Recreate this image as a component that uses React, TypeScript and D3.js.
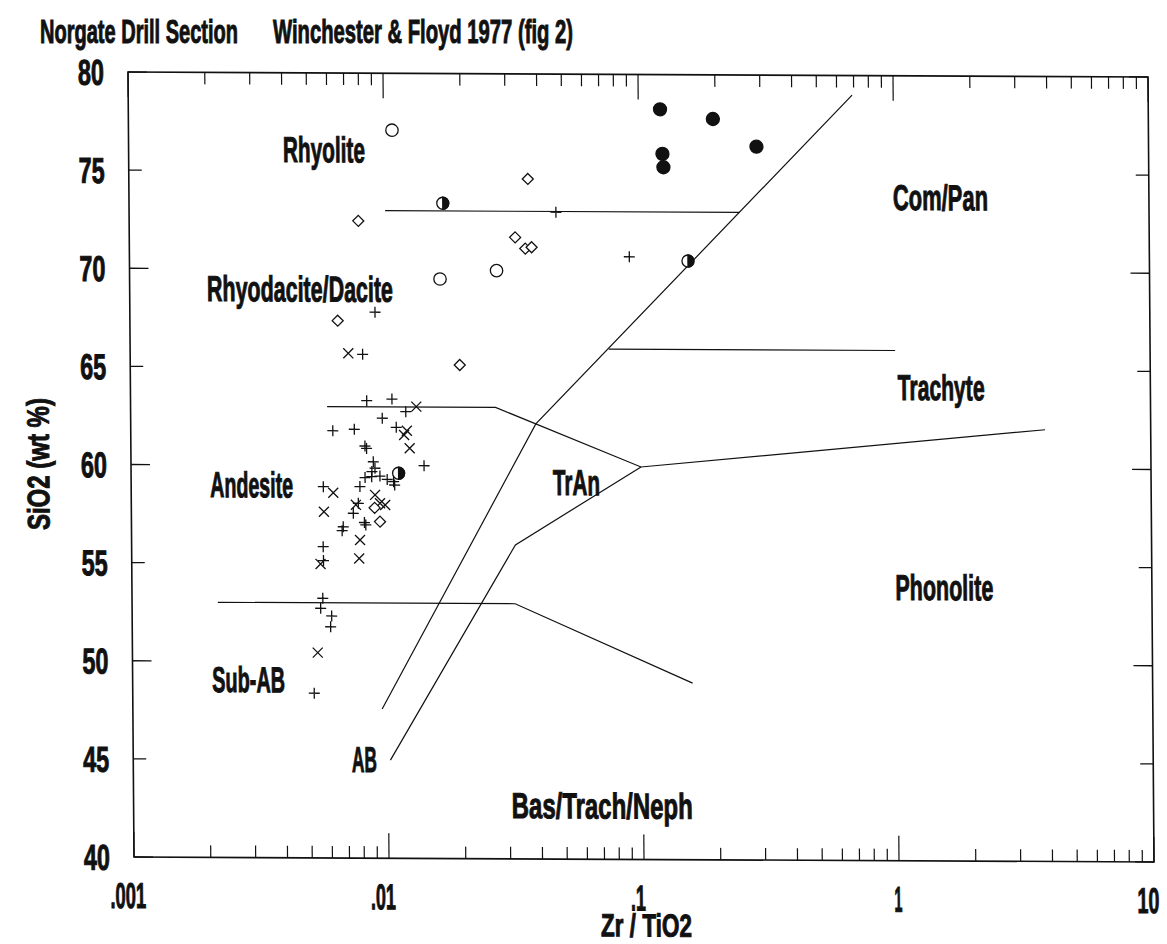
import React from "react";
import * as d3 from "d3";

// Winchester & Floyd 1977 (fig 2): Zr/TiO2 vs SiO2, Norgate drill section

const xTickValues = [0.001, 0.01, 0.1, 1, 10];
const xTickLabels = [".001", ".01", ".1", "1", "10"];
const yTickValues = [40, 45, 50, 55, 60, 65, 70, 75, 80];

// samples: [Zr/TiO2, SiO2 wt%]
const plusPoints: [number, number][] = [
  [0.0472, 72.96], [0.0913, 70.71], [0.00915, 67.82], [0.00816, 65.67],
  [0.00844, 63.31], [0.0106, 63.4], [0.012, 62.76], [0.0097, 62.42],
  [0.011, 61.96], [0.0062, 61.77], [0.00753, 61.85], [0.00828, 61.0],
  [0.0084, 60.88], [0.0141, 60.01], [0.00892, 60.2], [0.00905, 59.87],
  [0.00827, 59.39], [0.00878, 59.44], [0.00946, 59.47], [0.0107, 59.19],
  [0.0108, 59.02], [0.0088, 59.7], [0.0101, 59.3], [0.00567, 58.92],
  [0.00789, 58.93], [0.00777, 58.08], [0.00742, 57.57], [0.0082, 57.1],
  [0.0083, 56.98], [0.00677, 56.88], [0.0067, 56.68], [0.00564, 55.86],
  [0.00565, 55.15], [0.0056, 53.23], [0.00549, 52.72], [0.00606, 52.33],
  [0.006, 51.78], [0.00515, 48.39]
];
const crossPoints: [number, number][] = [
  [0.00717, 65.72], [0.0132, 63.02], [0.0121, 61.79], [0.0118, 61.57],
  [0.0124, 60.9], [0.0062, 58.61], [0.00904, 58.51], [0.00945, 58.09],
  [0.0099, 58.0], [0.0076, 58.0], [0.00569, 57.64], [0.00787, 56.21],
  [0.0055, 54.98], [0.0078, 55.27], [0.00533, 50.46]
];
const diamondPoints: [number, number][] = [
  [0.0367, 74.65], [0.00792, 72.47], [0.0326, 71.67], [0.0357, 71.1],
  [0.0378, 71.17], [0.00653, 67.38], [0.0196, 65.15], [0.009, 57.85],
  [0.00944, 57.15]
];
const openCirclePoints: [number, number][] = [
  [0.0108, 77.1], [0.0275, 69.97], [0.0165, 69.53]
];
const filledCirclePoints: [number, number][] = [
  [0.1217, 78.23], [0.196, 77.75], [0.29, 76.35], [0.124, 75.96], [0.125, 75.28]
];
const halfCirclePoints: [number, number][] = [
  [0.017, 73.39], [0.155, 70.51], [0.0112, 59.62]
];

// field boundaries
const boundaries: [number, number][][] = [
  [[0.0101, 73], [0.248, 73]],
  [[0.0059, 63], [0.027, 63], [0.1, 60], [3.85, 62]],
  [[0.00217, 53], [0.0318, 53], [0.157, 49]],
  [[0.0095, 47.6], [0.0388, 62.17], [0.69, 79]],
  [[0.0102, 45], [0.032, 56], [0.1, 60]],
  [[0.0754, 66], [1.0, 66]]
];

// field names, anchored at left baseline
const fieldNames = ["Rhyolite", "Rhyodacite/Dacite", "Andesite", "Sub-AB", "AB", "TrAn", "Com/Pan", "Trachyte", "Phonolite", "Bas/Trach/Neph"];
const fieldX = [0.00403, 0.00201, 0.00204, 0.00205, 0.0072, 0.0451, 0.991, 1.02, 0.986, 0.0304];
const fieldY = [75.45, 68.35, 58.36, 48.43, 44.39, 58.55, 73.16, 63.48, 53.29, 42.08];

const FONT = "'Liberation Sans Narrow', 'Liberation Sans', Arial, sans-serif";
const textW: Record<string, number> = {
  "Rhyolite": 82, "Rhyodacite/Dacite": 186, "Andesite": 83, "Sub-AB": 73, "AB": 25,
  "TrAn": 47, "Com/Pan": 95, "Trachyte": 87, "Phonolite": 98, "Bas/Trach/Neph": 181,
  ".001": 36, ".01": 25, ".1": 15, "1": 8, "10": 22
};

export default function App() {
  const width = 1167;
  const height = 944;
  const x = d3.scaleLog().domain([0.001, 10]).range([128, 1148]);
  const y = d3.scaleLinear().domain([40, 80]).range([857, 72]);
  const [x0, x1] = x.range();
  const [y0, y1] = y.range();
  const line = d3.line<[number, number]>().x(d => x(d[0])).y(d => y(d[1]));
  const allTicks = x.ticks();
  const isMajor = (v: number) => Math.abs(Math.log10(v) - Math.round(Math.log10(v))) < 1e-6;
  const stroke = "#111";
  const txt = { stroke: "#111", strokeWidth: 1, fill: "#111" };

  return (
    <svg width={width} height={height} style={{ position: "absolute", left: 0, top: 0, background: "#fff" }}
      fontFamily={FONT} fontWeight={700}>
      <rect width={width} height={height} fill="#fff" />
      <text x={40} y={43} fontSize={33} textLength={198} lengthAdjust="spacingAndGlyphs" {...txt}>Norgate Drill Section</text>
      <text x={273} y={43} fontSize={33} textLength={300} lengthAdjust="spacingAndGlyphs" {...txt}>Winchester &amp; Floyd 1977 (fig 2)</text>

      <g transform="matrix(1,0.0049,0.00764,1,-0.55,-0.63)">
        {/* frame */}
        <rect x={x0} y={y1} width={x1 - x0} height={y0 - y1} fill="none" stroke={stroke} strokeWidth={1.6} />

        {/* y ticks */}
        {yTickValues.map(v => {
          const len = v % 10 === 0 ? 19 : 13;
          return (
            <g key={"y" + v}>
              <line x1={x0} x2={x0 + len} y1={y(v)} y2={y(v)} stroke={stroke} strokeWidth={1.3} />
              <line x1={x1} x2={x1 - len} y1={y(v)} y2={y(v)} stroke={stroke} strokeWidth={1.3} />
              <text x={104} y={y(v) + 13} fontSize={36} textAnchor="end" textLength={26}
                lengthAdjust="spacingAndGlyphs" {...txt}>{v}</text>
            </g>
          );
        })}

        {/* x ticks */}
        {allTicks.map((v, i) => {
          const len = isMajor(v) ? 25 : 12;
          return (
            <g key={"x" + i}>
              <line x1={x(v)} x2={x(v)} y1={y0} y2={y0 - len} stroke={stroke} strokeWidth={1.2} />
              <line x1={x(v)} x2={x(v)} y1={y1} y2={y1 + len} stroke={stroke} strokeWidth={1.2} />
            </g>
          );
        })}
        {xTickValues.map((v, i) => {
          const lab = xTickLabels[i];
          const last = i === xTickValues.length - 1;
          const off = lab.startsWith(".") ? -6 : (last ? 5 : -1);
          return (
            <text key={"xl" + i} x={x(v) + off} y={908} fontSize={36} textAnchor={last ? "end" : "middle"}
              textLength={textW[lab]} lengthAdjust="spacingAndGlyphs" {...txt}>{lab}</text>
          );
        })}
        <text x={640} y={934} fontSize={32} textAnchor="middle" textLength={91}
          lengthAdjust="spacingAndGlyphs" {...txt}>Zr / TiO2</text>
        <text transform={`translate(46,${y(60)}) rotate(-90)`} fontSize={31} textAnchor="middle"
          textLength={132} lengthAdjust="spacingAndGlyphs" {...txt}>SiO2 (wt %)</text>

        {/* field boundaries */}
        {boundaries.map((b, i) => (
          <path key={"b" + i} d={line(b) || ""} fill="none" stroke={stroke} strokeWidth={1.2} />
        ))}

        {/* field names */}
        {fieldNames.map((n, i) => (
          <text key={n} x={x(fieldX[i])} y={y(fieldY[i])} fontSize={36}
            textLength={textW[n]} lengthAdjust="spacingAndGlyphs" {...txt}>{n}</text>
        ))}

        {/* samples */}
        <g stroke={stroke} strokeWidth={1.3} fill="none">
          {plusPoints.map((d, i) => (
            <path key={"p" + i} d={`M${x(d[0]) - 5.5},${y(d[1])}h11M${x(d[0])},${y(d[1]) - 5.5}v11`} />
          ))}
          {crossPoints.map((d, i) => (
            <path key={"c" + i} d={`M${x(d[0]) - 5},${y(d[1]) - 5}l10,10M${x(d[0]) - 5},${y(d[1]) + 5}l10,-10`} />
          ))}
          {diamondPoints.map((d, i) => (
            <path key={"d" + i} d={`M${x(d[0])},${y(d[1]) - 5.5}l5.5,5.5l-5.5,5.5l-5.5,-5.5z`} fill="#fff" />
          ))}
          {openCirclePoints.map((d, i) => (
            <circle key={"o" + i} cx={x(d[0])} cy={y(d[1])} r={6.2} fill="#fff" />
          ))}
          {filledCirclePoints.map((d, i) => (
            <circle key={"f" + i} cx={x(d[0])} cy={y(d[1])} r={6.5} fill={stroke} />
          ))}
          {halfCirclePoints.map((d, i) => {
            const cx = x(d[0]);
            const cy = y(d[1]);
            const r = 6;
            return (
              <g key={"h" + i}>
                <circle cx={cx} cy={cy} r={r} fill="#fff" />
                <path d={`M${cx},${cy - r}A${r},${r} 0 0 1 ${cx},${cy + r}Z`} fill={stroke} />
              </g>
            );
          })}
        </g>
      </g>
    </svg>
  );
}
